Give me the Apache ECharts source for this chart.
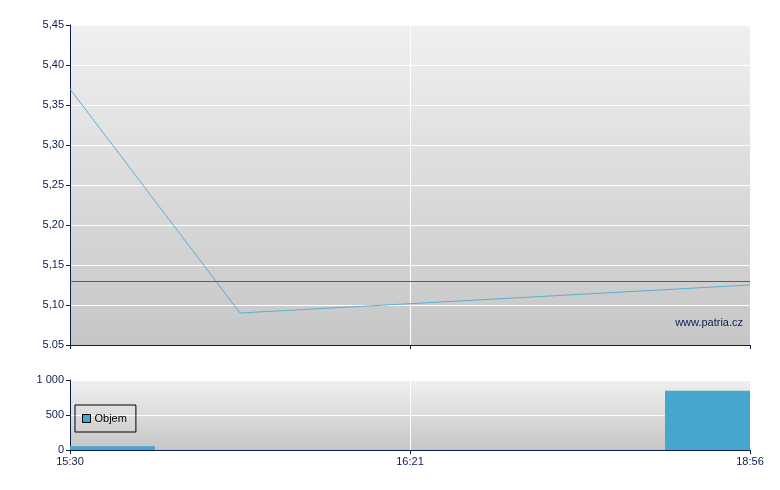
<!DOCTYPE html>
<html><head><meta charset="utf-8">
<script src="https://cdn.jsdelivr.net/npm/echarts@6/dist/echarts.min.js"></script>
<style>html,body{margin:0;padding:0;background:#fff}#c{width:780px;height:490px}</style>
</head><body><div id="c"></div>
<script>
var xLabels = ['15:30', '16:21', '18:56'];
var priceX = [0, 1, 4];
var priceY = [5.37, 5.09, 5.125];
var refPrice = 5.13;
var volX = [0, 4];
var volY = [55, 845];
var priceTickLabels = ['5.05', '5,10', '5,15', '5,20', '5,25', '5,30', '5,35', '5,40', '5,45'];
var volTickLabels = ['0', '500', '1 000'];
var watermark = 'www.patria.cz';
var legendName = 'Objem';

var navy = '#0b1f4f';
var chart = echarts.init(document.getElementById('c'), null, {renderer: 'canvas'});
function bg() {
  return new echarts.graphic.LinearGradient(0, 0, 0, 1, [
    {offset: 0, color: '#f0f0f0'}, {offset: 1, color: '#c6c6c6'}
  ]);
}
var font = 'Liberation Sans, Arial, sans-serif';
function xAxis(gi, showLabels) {
  return {
    type: 'value', gridIndex: gi, min: 0, max: 4, interval: 2,
    axisLine: {show: true, lineStyle: {color: navy, width: 1}},
    axisTick: {show: true, length: 4, lineStyle: {color: navy}},
    axisLabel: {show: showLabels, color: navy, fontFamily: font, fontSize: 11, margin: 6,
      formatter: function (v) { return xLabels[Math.round(v / 2)]; }},
    splitLine: {show: true, lineStyle: {color: '#ffffff', width: 1}}
  };
}
var option = {
  animation: false,
  grid: [
    {left: 70, top: 25, width: 680, height: 320, show: true, backgroundColor: bg(), borderWidth: 0},
    {left: 70, top: 380, width: 680, height: 70, show: true, backgroundColor: bg(), borderWidth: 0}
  ],
  xAxis: [xAxis(0, false), xAxis(1, true)],
  yAxis: [
    {type: 'value', gridIndex: 0, min: 5.05, max: 5.45, interval: 0.05,
      axisLine: {show: true, lineStyle: {color: navy, width: 1}},
      axisTick: {show: true, length: 4, lineStyle: {color: navy}},
      axisLabel: {color: navy, fontFamily: font, fontSize: 11, margin: 6,
        formatter: function (v) { return priceTickLabels[Math.round((v - 5.05) / 0.05)]; }},
      splitLine: {show: true, lineStyle: {color: '#ffffff', width: 1}}},
    {type: 'value', gridIndex: 1, min: 0, max: 1000, interval: 500,
      axisLine: {show: true, lineStyle: {color: navy, width: 1}},
      axisTick: {show: true, length: 4, lineStyle: {color: navy}},
      axisLabel: {color: navy, fontFamily: font, fontSize: 11, margin: 6,
        formatter: function (v) { return volTickLabels[Math.round(v / 500)]; }},
      splitLine: {show: true, lineStyle: {color: '#ffffff', width: 1}}}
  ],
  legend: {
    data: [legendName], left: 75, top: 405, orient: 'vertical',
    borderColor: '#000', borderWidth: 1, padding: [8, 9, 8, 7],
    itemWidth: 8, itemHeight: 8, itemGap: 4, icon: 'rect',
    itemStyle: {borderColor: '#000', borderWidth: 1},
    textStyle: {color: '#000', fontFamily: font, fontSize: 11, padding: [0, 0, 0, -1]}
  },
  graphic: [{type: 'text', right: 37, top: 317, style: {text: watermark, fill: navy, font: '11px ' + font}}],
  series: [
    {type: 'line', xAxisIndex: 0, yAxisIndex: 0, symbol: 'none',
      data: priceX.map(function (x, i) { return [x, priceY[i]]; }),
      lineStyle: {color: '#5aaed6', width: 1},
      markLine: {silent: true, symbol: 'none', label: {show: false},
        lineStyle: {color: '#c8302c', width: 1, type: 'solid'},
        data: [{yAxis: refPrice}]}},
    {type: 'custom', name: legendName, xAxisIndex: 1, yAxisIndex: 1,
      data: volX.map(function (x, i) { return [x, volY[i]]; }),
      itemStyle: {color: '#46a6ce'},
      encode: {x: 0, y: 1},
      renderItem: function (params, api) {
        var x = api.value(0), y = api.value(1);
        var top = api.coord([x, y]);
        var base = api.coord([x, 0]);
        var w = api.size([1, 0])[0];
        var rect = echarts.graphic.clipRectByRect(
          {x: top[0] - w / 2, y: top[1], width: w, height: base[1] - top[1]},
          {x: params.coordSys.x, y: params.coordSys.y, width: params.coordSys.width, height: params.coordSys.height});
        return rect && {type: 'rect', shape: rect, style: {fill: '#46a6ce'}};
      }}
  ]
};
chart.setOption(option);
</script></body></html>
